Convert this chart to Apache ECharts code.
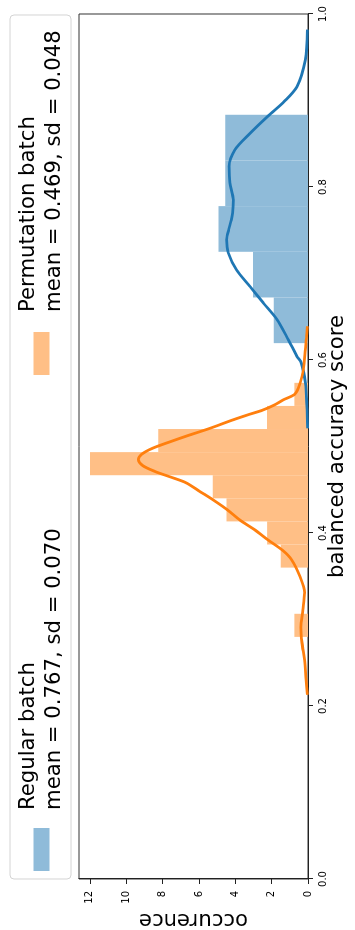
<!DOCTYPE html>
<html>
<head>
<meta charset="utf-8">
<script src="https://cdn.jsdelivr.net/npm/echarts@6/dist/echarts.min.js"></script>
<style>
  html, body { margin: 0; padding: 0; width: 355px; height: 930px; overflow: hidden; background: #fff; }
  /* the figure is laid out landscape and turned a quarter turn counter-clockwise */
  #fig {
    position: absolute; left: 0; top: 0;
    width: 930px; height: 355px;
    transform-origin: 0 0;
    transform: translateY(930px) rotate(-90deg);
  }
</style>
</head>
<body>
<div id="fig"></div>
<script>
// ---- data -------------------------------------------------------------
const scoreTicks = [0, 0.2, 0.4, 0.6, 0.8, 1.0];
const occTicks = [0, 2, 4, 6, 8, 10, 12];

const seriesNames = ['Regular batch', 'Permutation batch'];
const seriesMeans = ['0.767', '0.469'];
const seriesSds = ['0.070', '0.048'];

// histogram bins (edges) and density heights
const regEdges = [0.6195, 0.6723, 0.7251, 0.7779, 0.8307, 0.8835];
const regHeights = [1.89, 3.03, 4.92, 4.55, 4.55];

const permEdges = [0.2799, 0.3066, 0.3333, 0.3600, 0.3867, 0.4134, 0.4401, 0.4668, 0.4935, 0.5202, 0.5469, 0.5736];
const permHeights = [0.75, 0, 0, 1.50, 2.25, 4.49, 5.24, 11.99, 8.24, 2.25, 0.75];

// kernel density curves
const regKdeX = [0.521, 0.547, 0.574, 0.597, 0.604, 0.623, 0.647, 0.666, 0.685, 0.704, 0.724, 0.739, 0.751, 0.762, 0.770, 0.785, 0.805, 0.824, 0.843, 0.862, 0.882, 0.899, 0.916, 0.947, 0.982];
const regKdeY = [0.02, 0.06, 0.15, 0.38, 0.60, 1.07, 1.71, 2.46, 3.19, 3.93, 4.39, 4.48, 4.36, 4.22, 4.15, 4.11, 4.30, 4.34, 4.02, 3.19, 2.20, 1.30, 0.61, 0.15, 0.03];

const permKdeX = [0.213, 0.230, 0.253, 0.273, 0.291, 0.311, 0.331, 0.349, 0.369, 0.380, 0.392, 0.404, 0.415, 0.427, 0.438, 0.448, 0.458, 0.465, 0.471, 0.478, 0.485, 0.491, 0.498, 0.505, 0.512, 0.521, 0.531, 0.537, 0.542, 0.548, 0.554, 0.560, 0.568, 0.581, 0.596, 0.612, 0.625, 0.639];
const permKdeY = [0.03, 0.10, 0.19, 0.33, 0.39, 0.28, 0.19, 0.43, 0.90, 1.40, 2.20, 2.95, 3.75, 4.45, 5.20, 5.95, 6.70, 7.60, 8.40, 9.10, 9.33, 9.15, 8.55, 7.65, 6.70, 5.40, 4.10, 3.25, 2.50, 1.85, 1.35, 0.75, 0.52, 0.33, 0.21, 0.15, 0.09, 0.04];

// ---- helpers ----------------------------------------------------------
const FONT = 'DejaVu Sans';
const BIG = 21.2;
const BLUE = '#1f77b4', ORANGE = '#ff7f0e';
const BLUE_FILL = '#8fbbd9', ORANGE_FILL = '#ffbf86';

function binRows(edges, heights) {
  return heights.map((h, i) => [edges[i], edges[i + 1], h]);
}
function pairs(xs, ys) {
  return xs.map((x, i) => [x, ys[i]]);
}
function histSeries(name, edges, heights, fill) {
  return {
    name: name,
    type: 'custom',
    data: binRows(edges, heights),
    encode: { x: [0, 1], y: 2 },
    itemStyle: { color: fill },
    z: 2,
    renderItem: function (params, api) {
      const p0 = api.coord([api.value(0), api.value(2)]);
      const p1 = api.coord([api.value(1), 0]);
      return {
        type: 'rect',
        shape: { x: p0[0], y: p0[1], width: p1[0] - p0[0], height: p1[1] - p0[1] },
        style: { fill: fill }
      };
    }
  };
}
function kdeSeries(name, xs, ys, color, z) {
  return {
    name: name,
    type: 'line',
    data: pairs(xs, ys),
    smooth: 0.3,
    symbol: 'none',
    lineStyle: { color: color, width: 2.8 },
    z: z
  };
}
function legendFor(i, left, fill, gap) {
  return {
    data: [{ name: seriesNames[i], icon: 'rect', itemStyle: { color: fill } }],
    left: left,
    top: 15,
    padding: 0,
    itemWidth: 43,
    itemHeight: 16,
    selectedMode: false,
    formatter: function (name) {
      return name + '\nmean = ' + seriesMeans[i] + ', sd = ' + seriesSds[i];
    },
    textStyle: {
      fontFamily: FONT, fontSize: BIG, lineHeight: 26.5, color: '#000',
      padding: [0, 0, 0, gap]
    }
  };
}

// ---- chart ------------------------------------------------------------
const chart = echarts.init(document.getElementById('fig'), null, { renderer: 'canvas' });

chart.setOption({
  animation: false,
  backgroundColor: '#fff',
  textStyle: { fontFamily: FONT },
  graphic: [{
    type: 'rect',
    z: 0,
    shape: { x: 51, y: 10, width: 864, height: 61, r: 4 },
    style: { fill: '#fff', stroke: '#d4d4d4', lineWidth: 1 }
  }],
  legend: [
    legendFor(0, 59, BLUE_FILL, 13),
    legendFor(1, 555, ORANGE_FILL, 15)
  ],
  grid: {
    left: 51, right: 14, top: 79, bottom: 47,
    containLabel: false,
    outerBoundsMode: 'none',
    show: true, borderColor: '#333', borderWidth: 1
  },
  xAxis: {
    type: 'value',
    min: 0, max: 1, interval: 0.2,
    name: 'balanced accuracy score',
    nameLocation: 'middle',
    nameGap: 19,
    nameMoveOverlap: false,
    nameTextStyle: { fontFamily: FONT, fontSize: BIG, color: '#000' },
    axisLine: { show: true, lineStyle: { color: '#222', width: 1 } },
    axisTick: { show: true, length: 5, lineStyle: { color: '#222', width: 1 }, customValues: scoreTicks },
    axisLabel: {
      fontFamily: FONT, fontSize: 10, color: '#000', margin: 10,
      customValues: scoreTicks,
      formatter: v => v.toFixed(1)
    },
    splitLine: { show: false }
  },
  yAxis: {
    type: 'value',
    min: 0, max: 12.6,
    name: 'occurence',
    nameLocation: 'middle',
    nameRotate: 90,
    nameGap: 30,
    nameMoveOverlap: false,
    nameTextStyle: { fontFamily: FONT, fontSize: BIG, color: '#000' },
    axisLine: { show: true, lineStyle: { color: '#222', width: 1 } },
    axisTick: { show: true, length: 5, lineStyle: { color: '#222', width: 1 }, customValues: occTicks },
    axisLabel: {
      fontFamily: FONT, fontSize: 10, color: '#000', margin: 12,
      customValues: occTicks,
      formatter: v => String(v)
    },
    splitLine: { show: false }
  },
  series: [
    histSeries(seriesNames[0], regEdges, regHeights, BLUE_FILL),
    histSeries(seriesNames[1], permEdges, permHeights, ORANGE_FILL),
    kdeSeries('Regular batch density', regKdeX, regKdeY, BLUE, 3),
    kdeSeries('Permutation batch density', permKdeX, permKdeY, ORANGE, 4)
  ]
});
</script>
</body>
</html>
